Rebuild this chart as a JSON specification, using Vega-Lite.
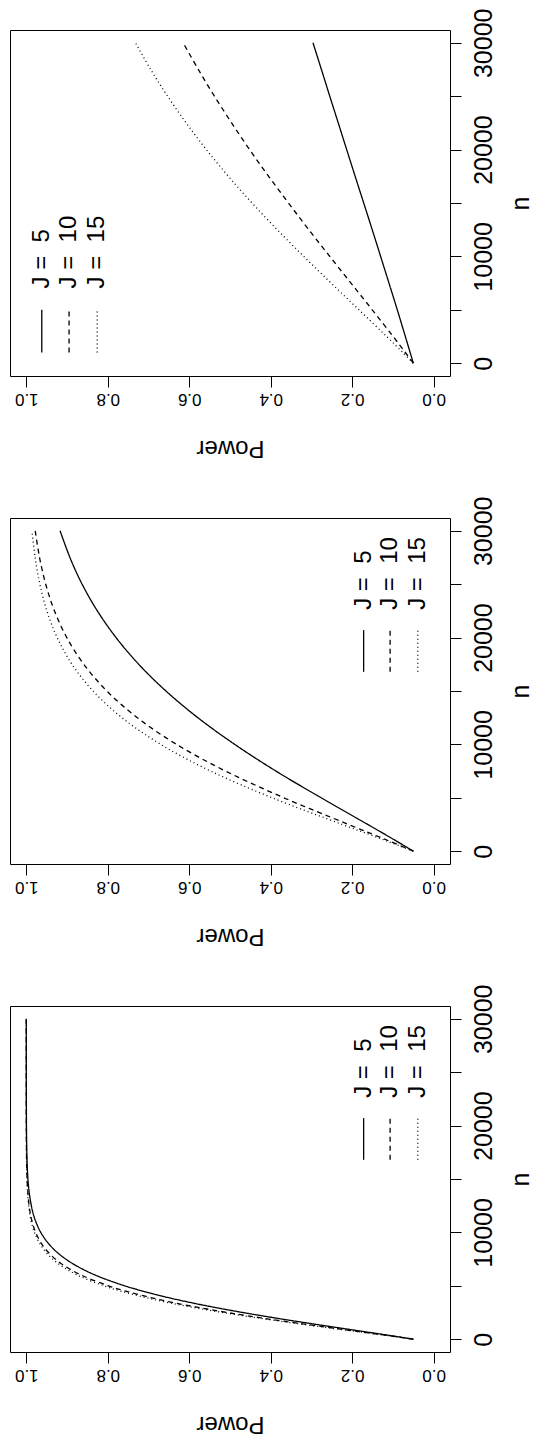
{
  "$schema": "https://vega.github.io/schema/vega-lite/v6.json",
  "padding": {"left": 9, "top": 7, "right": 0, "bottom": 10},
  "spacing": 142,
  "bounds": "flush",
  "config": {
    "font": "Liberation Sans",
    "view": {"stroke": "black", "strokeWidth": 1},
    "axis": {"domain": false, "grid": false, "tickColor": "black", "tickWidth": 1, "labelColor": "black", "titleColor": "black", "labelFont": "Liberation Sans", "titleFont": "Liberation Sans", "titleFontWeight": "normal", "labelFlush": false, "labelOverlap": false},
    "text": {"font": "Liberation Sans", "color": "black"}
  },
  "datasets": {
    "legend": [
      {"J": 5, "label": "J = \u00a05"},
      {"J": 10, "label": "J = \u00a010"},
      {"J": 15, "label": "J = \u00a015"}
    ],
    "curves": [
      {"p":"t","J":5,"n":0,"power":0.05},{"p":"t","J":5,"n":1000,"power":0.0578},{"p":"t","J":5,"n":2500,"power":0.0696},{"p":"t","J":5,"n":5000,"power":0.0894},{"p":"t","J":5,"n":7500,"power":0.1098},{"p":"t","J":5,"n":10000,"power":0.1303},{"p":"t","J":5,"n":12500,"power":0.1509},{"p":"t","J":5,"n":15000,"power":0.1718},{"p":"t","J":5,"n":17500,"power":0.1928},{"p":"t","J":5,"n":20000,"power":0.2136},{"p":"t","J":5,"n":22500,"power":0.2343},{"p":"t","J":5,"n":25000,"power":0.2551},{"p":"t","J":5,"n":27500,"power":0.2756},{"p":"t","J":5,"n":30000,"power":0.2963},
      {"p":"t","J":10,"n":0,"power":0.05},{"p":"t","J":10,"n":1000,"power":0.0696},{"p":"t","J":10,"n":2500,"power":0.0996},{"p":"t","J":10,"n":5000,"power":0.1509},{"p":"t","J":10,"n":7500,"power":0.2031},{"p":"t","J":10,"n":10000,"power":0.2551},{"p":"t","J":10,"n":12500,"power":0.3066},{"p":"t","J":10,"n":15000,"power":0.3565},{"p":"t","J":10,"n":17500,"power":0.4053},{"p":"t","J":10,"n":20000,"power":0.4519},{"p":"t","J":10,"n":22500,"power":0.4960},{"p":"t","J":10,"n":25000,"power":0.5382},{"p":"t","J":10,"n":27500,"power":0.5777},{"p":"t","J":10,"n":30000,"power":0.6149},
      {"p":"t","J":15,"n":0,"power":0.05},{"p":"t","J":15,"n":1000,"power":0.0757},{"p":"t","J":15,"n":2500,"power":0.1156},{"p":"t","J":15,"n":5000,"power":0.1835},{"p":"t","J":15,"n":7500,"power":0.2519},{"p":"t","J":15,"n":10000,"power":0.3190},{"p":"t","J":15,"n":12500,"power":0.3841},{"p":"t","J":15,"n":15000,"power":0.4459},{"p":"t","J":15,"n":17500,"power":0.5040},{"p":"t","J":15,"n":20000,"power":0.5580},{"p":"t","J":15,"n":22500,"power":0.6076},{"p":"t","J":15,"n":25000,"power":0.6532},{"p":"t","J":15,"n":27500,"power":0.6946},{"p":"t","J":15,"n":30000,"power":0.7320},
      {"p":"m","J":5,"n":0,"power":0.05},{"p":"m","J":5,"n":1000,"power":0.0938},{"p":"m","J":5,"n":2500,"power":0.1618},{"p":"m","J":5,"n":5000,"power":0.2763},{"p":"m","J":5,"n":7500,"power":0.3872},{"p":"m","J":5,"n":10000,"power":0.4884},{"p":"m","J":5,"n":12500,"power":0.5789},{"p":"m","J":5,"n":15000,"power":0.6573},{"p":"m","J":5,"n":17500,"power":0.7241},{"p":"m","J":5,"n":20000,"power":0.7796},{"p":"m","J":5,"n":22500,"power":0.8256},{"p":"m","J":5,"n":25000,"power":0.8630},{"p":"m","J":5,"n":27500,"power":0.8929},{"p":"m","J":5,"n":30000,"power":0.9170},
      {"p":"m","J":10,"n":0,"power":0.05},{"p":"m","J":10,"n":1000,"power":0.1122},{"p":"m","J":10,"n":2500,"power":0.2090},{"p":"m","J":10,"n":5000,"power":0.3678},{"p":"m","J":10,"n":7500,"power":0.5108},{"p":"m","J":10,"n":10000,"power":0.6312},{"p":"m","J":10,"n":12500,"power":0.7274},{"p":"m","J":10,"n":15000,"power":0.8023},{"p":"m","J":10,"n":17500,"power":0.8588},{"p":"m","J":10,"n":20000,"power":0.9006},{"p":"m","J":10,"n":22500,"power":0.9308},{"p":"m","J":10,"n":25000,"power":0.9523},{"p":"m","J":10,"n":27500,"power":0.9675},{"p":"m","J":10,"n":30000,"power":0.9780},
      {"p":"m","J":15,"n":0,"power":0.05},{"p":"m","J":15,"n":1000,"power":0.1182},{"p":"m","J":15,"n":2500,"power":0.2243},{"p":"m","J":15,"n":5000,"power":0.3964},{"p":"m","J":15,"n":7500,"power":0.5474},{"p":"m","J":15,"n":10000,"power":0.6700},{"p":"m","J":15,"n":12500,"power":0.7651},{"p":"m","J":15,"n":15000,"power":0.8362},{"p":"m","J":15,"n":17500,"power":0.8878},{"p":"m","J":15,"n":20000,"power":0.9242},{"p":"m","J":15,"n":22500,"power":0.9495},{"p":"m","J":15,"n":25000,"power":0.9667},{"p":"m","J":15,"n":27500,"power":0.9783},{"p":"m","J":15,"n":30000,"power":0.9860},
      {"p":"b","J":5,"n":0,"power":0.05},{"p":"b","J":5,"n":250,"power":0.0914},{"p":"b","J":5,"n":500,"power":0.1343},{"p":"b","J":5,"n":750,"power":0.1778},{"p":"b","J":5,"n":1000,"power":0.2217},{"p":"b","J":5,"n":1500,"power":0.3080},{"p":"b","J":5,"n":2000,"power":0.3910},{"p":"b","J":5,"n":2500,"power":0.4689},{"p":"b","J":5,"n":3000,"power":0.5406},{"p":"b","J":5,"n":3500,"power":0.6053},{"p":"b","J":5,"n":4000,"power":0.6631},{"p":"b","J":5,"n":4500,"power":0.7140},{"p":"b","J":5,"n":5000,"power":0.7587},{"p":"b","J":5,"n":6000,"power":0.8305},{"p":"b","J":5,"n":7000,"power":0.8828},{"p":"b","J":5,"n":8000,"power":0.9203},{"p":"b","J":5,"n":9000,"power":0.9464},{"p":"b","J":5,"n":10000,"power":0.9645},{"p":"b","J":5,"n":11000,"power":0.9766},{"p":"b","J":5,"n":12000,"power":0.9848},{"p":"b","J":5,"n":14000,"power":0.9937},{"p":"b","J":5,"n":16000,"power":0.9975},{"p":"b","J":5,"n":18000,"power":0.9990},{"p":"b","J":5,"n":20000,"power":0.9996},{"p":"b","J":5,"n":25000,"power":1.0},{"p":"b","J":5,"n":30000,"power":1.0},
      {"p":"b","J":10,"n":0,"power":0.05},{"p":"b","J":10,"n":250,"power":0.0958},{"p":"b","J":10,"n":500,"power":0.1432},{"p":"b","J":10,"n":750,"power":0.1914},{"p":"b","J":10,"n":1000,"power":0.2398},{"p":"b","J":10,"n":1500,"power":0.3344},{"p":"b","J":10,"n":2000,"power":0.4243},{"p":"b","J":10,"n":2500,"power":0.5072},{"p":"b","J":10,"n":3000,"power":0.5816},{"p":"b","J":10,"n":3500,"power":0.6480},{"p":"b","J":10,"n":4000,"power":0.7057},{"p":"b","J":10,"n":4500,"power":0.7558},{"p":"b","J":10,"n":5000,"power":0.7984},{"p":"b","J":10,"n":6000,"power":0.8650},{"p":"b","J":10,"n":7000,"power":0.9113},{"p":"b","J":10,"n":8000,"power":0.9426},{"p":"b","J":10,"n":9000,"power":0.9634},{"p":"b","J":10,"n":10000,"power":0.9770},{"p":"b","J":10,"n":11000,"power":0.9857},{"p":"b","J":10,"n":12000,"power":0.9912},{"p":"b","J":10,"n":14000,"power":0.9967},{"p":"b","J":10,"n":16000,"power":0.9988},{"p":"b","J":10,"n":18000,"power":0.9996},{"p":"b","J":10,"n":20000,"power":0.9999},{"p":"b","J":10,"n":25000,"power":1.0},{"p":"b","J":10,"n":30000,"power":1.0},
      {"p":"b","J":15,"n":0,"power":0.05},{"p":"b","J":15,"n":250,"power":0.0971},{"p":"b","J":15,"n":500,"power":0.1460},{"p":"b","J":15,"n":750,"power":0.1957},{"p":"b","J":15,"n":1000,"power":0.2454},{"p":"b","J":15,"n":1500,"power":0.3425},{"p":"b","J":15,"n":2000,"power":0.4341},{"p":"b","J":15,"n":2500,"power":0.5183},{"p":"b","J":15,"n":3000,"power":0.5941},{"p":"b","J":15,"n":3500,"power":0.6606},{"p":"b","J":15,"n":4000,"power":0.7180},{"p":"b","J":15,"n":4500,"power":0.7679},{"p":"b","J":15,"n":5000,"power":0.8098},{"p":"b","J":15,"n":6000,"power":0.8745},{"p":"b","J":15,"n":7000,"power":0.9188},{"p":"b","J":15,"n":8000,"power":0.9483},{"p":"b","J":15,"n":9000,"power":0.9676},{"p":"b","J":15,"n":10000,"power":0.9800},{"p":"b","J":15,"n":11000,"power":0.9877},{"p":"b","J":15,"n":12000,"power":0.9926},{"p":"b","J":15,"n":14000,"power":0.9973},{"p":"b","J":15,"n":16000,"power":0.9991},{"p":"b","J":15,"n":18000,"power":0.9997},{"p":"b","J":15,"n":20000,"power":0.9999},{"p":"b","J":15,"n":25000,"power":1.0},{"p":"b","J":15,"n":30000,"power":1.0}
    ]
  },
  "vconcat": [
    {
      "width": 440, "height": 346,
      "layer": [
        {"data": {"name": "curves"}, "transform": [{"filter": "datum.p == 't'"}],
         "mark": {"type": "line", "color": "black", "strokeWidth": 1.3, "interpolate": "catmull-rom"},
         "encoding": {
           "x": {"field": "power", "type": "quantitative", "scale": {"domain": [-0.04, 1.04], "reverse": true, "nice": false, "zero": false},
                 "axis": {"orient": "bottom", "title": "Power", "values": [0, 0.2, 0.4, 0.6, 0.8, 1], "format": ".1f", "labelAngle": 180, "labelAlign": "center", "labelBaseline": "bottom", "labelFontSize": 17, "labelPadding": 2, "tickSize": 11, "titleAngle": 180, "titleBaseline": "bottom", "titleFontSize": 24, "titlePadding": 28}},
           "y": {"field": "n", "type": "quantitative", "scale": {"domain": [-1200, 31200], "nice": false, "zero": false},
                 "axis": {"orient": "right", "title": "n", "values": [0, 5000, 10000, 15000, 20000, 25000, 30000], "labelExpr": "datum.value % 10000 === 0 ? format(datum.value, 'd') : ''", "labelAngle": 270, "labelAlign": "center", "labelBaseline": "top", "labelFontSize": 25, "labelPadding": 10, "tickSize": 11, "titleAngle": 270, "titleBaseline": "top", "titleFontSize": 25, "titlePadding": 12}},
           "strokeDash": {"field": "J", "type": "nominal", "scale": {"domain": [5, 10, 15], "range": [[1, 0], [5, 4], [1, 3]]}, "legend": null},
           "order": {"field": "n", "type": "quantitative"}
         }},
        {"data": {"name": "legend"}, "transform": [{"filter": "datum.J == 5"}], "mark": {"type": "rule", "color": "black", "strokeWidth": 1.3}, "encoding": {"x": {"datum": 0.962, "type": "quantitative"}, "y": {"datum": 1000, "type": "quantitative"}, "y2": {"datum": 5000}}},
        {"data": {"name": "legend"}, "transform": [{"filter": "datum.J == 10"}], "mark": {"type": "rule", "color": "black", "strokeWidth": 1.3, "strokeDash": [5, 4]}, "encoding": {"x": {"datum": 0.895, "type": "quantitative"}, "y": {"datum": 1000, "type": "quantitative"}, "y2": {"datum": 5000}}},
        {"data": {"name": "legend"}, "transform": [{"filter": "datum.J == 15"}], "mark": {"type": "rule", "color": "black", "strokeWidth": 1.3, "strokeDash": [1, 3]}, "encoding": {"x": {"datum": 0.826, "type": "quantitative"}, "y": {"datum": 1000, "type": "quantitative"}, "y2": {"datum": 5000}}},
        {"data": {"name": "legend"}, "transform": [{"filter": "datum.J == 5"}], "mark": {"type": "text", "angle": 270, "align": "left", "baseline": "middle", "fontSize": 24}, "encoding": {"x": {"datum": 0.962, "type": "quantitative"}, "y": {"datum": 7000, "type": "quantitative"}, "text": {"field": "label"}}},
        {"data": {"name": "legend"}, "transform": [{"filter": "datum.J == 10"}], "mark": {"type": "text", "angle": 270, "align": "left", "baseline": "middle", "fontSize": 24}, "encoding": {"x": {"datum": 0.895, "type": "quantitative"}, "y": {"datum": 7000, "type": "quantitative"}, "text": {"field": "label"}}},
        {"data": {"name": "legend"}, "transform": [{"filter": "datum.J == 15"}], "mark": {"type": "text", "angle": 270, "align": "left", "baseline": "middle", "fontSize": 24}, "encoding": {"x": {"datum": 0.826, "type": "quantitative"}, "y": {"datum": 7000, "type": "quantitative"}, "text": {"field": "label"}}}
      ]
    },
    {
      "width": 440, "height": 346,
      "layer": [
        {"data": {"name": "curves"}, "transform": [{"filter": "datum.p == 'm'"}],
         "mark": {"type": "line", "color": "black", "strokeWidth": 1.3, "interpolate": "catmull-rom"},
         "encoding": {
           "x": {"field": "power", "type": "quantitative", "scale": {"domain": [-0.04, 1.04], "reverse": true, "nice": false, "zero": false},
                 "axis": {"orient": "bottom", "title": "Power", "values": [0, 0.2, 0.4, 0.6, 0.8, 1], "format": ".1f", "labelAngle": 180, "labelAlign": "center", "labelBaseline": "bottom", "labelFontSize": 17, "labelPadding": 2, "tickSize": 11, "titleAngle": 180, "titleBaseline": "bottom", "titleFontSize": 24, "titlePadding": 28}},
           "y": {"field": "n", "type": "quantitative", "scale": {"domain": [-1200, 31200], "nice": false, "zero": false},
                 "axis": {"orient": "right", "title": "n", "values": [0, 5000, 10000, 15000, 20000, 25000, 30000], "labelExpr": "datum.value % 10000 === 0 ? format(datum.value, 'd') : ''", "labelAngle": 270, "labelAlign": "center", "labelBaseline": "top", "labelFontSize": 25, "labelPadding": 10, "tickSize": 11, "titleAngle": 270, "titleBaseline": "top", "titleFontSize": 25, "titlePadding": 12}},
           "strokeDash": {"field": "J", "type": "nominal", "scale": {"domain": [5, 10, 15], "range": [[1, 0], [5, 4], [1, 3]]}, "legend": null},
           "order": {"field": "n", "type": "quantitative"}
         }},
        {"data": {"name": "legend"}, "transform": [{"filter": "datum.J == 5"}], "mark": {"type": "rule", "color": "black", "strokeWidth": 1.3}, "encoding": {"x": {"datum": 0.172, "type": "quantitative"}, "y": {"datum": 16800, "type": "quantitative"}, "y2": {"datum": 20700}}},
        {"data": {"name": "legend"}, "transform": [{"filter": "datum.J == 10"}], "mark": {"type": "rule", "color": "black", "strokeWidth": 1.3, "strokeDash": [5, 4]}, "encoding": {"x": {"datum": 0.107, "type": "quantitative"}, "y": {"datum": 16800, "type": "quantitative"}, "y2": {"datum": 20700}}},
        {"data": {"name": "legend"}, "transform": [{"filter": "datum.J == 15"}], "mark": {"type": "rule", "color": "black", "strokeWidth": 1.3, "strokeDash": [1, 3]}, "encoding": {"x": {"datum": 0.039, "type": "quantitative"}, "y": {"datum": 16800, "type": "quantitative"}, "y2": {"datum": 20700}}},
        {"data": {"name": "legend"}, "transform": [{"filter": "datum.J == 5"}], "mark": {"type": "text", "angle": 270, "align": "left", "baseline": "middle", "fontSize": 24}, "encoding": {"x": {"datum": 0.172, "type": "quantitative"}, "y": {"datum": 22600, "type": "quantitative"}, "text": {"field": "label"}}},
        {"data": {"name": "legend"}, "transform": [{"filter": "datum.J == 10"}], "mark": {"type": "text", "angle": 270, "align": "left", "baseline": "middle", "fontSize": 24}, "encoding": {"x": {"datum": 0.107, "type": "quantitative"}, "y": {"datum": 22600, "type": "quantitative"}, "text": {"field": "label"}}},
        {"data": {"name": "legend"}, "transform": [{"filter": "datum.J == 15"}], "mark": {"type": "text", "angle": 270, "align": "left", "baseline": "middle", "fontSize": 24}, "encoding": {"x": {"datum": 0.039, "type": "quantitative"}, "y": {"datum": 22600, "type": "quantitative"}, "text": {"field": "label"}}}
      ]
    },
    {
      "width": 440, "height": 346,
      "layer": [
        {"data": {"name": "curves"}, "transform": [{"filter": "datum.p == 'b'"}],
         "mark": {"type": "line", "color": "black", "strokeWidth": 1.3, "interpolate": "catmull-rom"},
         "encoding": {
           "x": {"field": "power", "type": "quantitative", "scale": {"domain": [-0.04, 1.04], "reverse": true, "nice": false, "zero": false},
                 "axis": {"orient": "bottom", "title": "Power", "values": [0, 0.2, 0.4, 0.6, 0.8, 1], "format": ".1f", "labelAngle": 180, "labelAlign": "center", "labelBaseline": "bottom", "labelFontSize": 17, "labelPadding": 2, "tickSize": 11, "titleAngle": 180, "titleBaseline": "bottom", "titleFontSize": 24, "titlePadding": 28}},
           "y": {"field": "n", "type": "quantitative", "scale": {"domain": [-1200, 31200], "nice": false, "zero": false},
                 "axis": {"orient": "right", "title": "n", "values": [0, 5000, 10000, 15000, 20000, 25000, 30000], "labelExpr": "datum.value % 10000 === 0 ? format(datum.value, 'd') : ''", "labelAngle": 270, "labelAlign": "center", "labelBaseline": "top", "labelFontSize": 25, "labelPadding": 10, "tickSize": 11, "titleAngle": 270, "titleBaseline": "top", "titleFontSize": 25, "titlePadding": 12}},
           "strokeDash": {"field": "J", "type": "nominal", "scale": {"domain": [5, 10, 15], "range": [[1, 0], [5, 4], [1, 3]]}, "legend": null},
           "order": {"field": "n", "type": "quantitative"}
         }},
        {"data": {"name": "legend"}, "transform": [{"filter": "datum.J == 5"}], "mark": {"type": "rule", "color": "black", "strokeWidth": 1.3}, "encoding": {"x": {"datum": 0.172, "type": "quantitative"}, "y": {"datum": 16800, "type": "quantitative"}, "y2": {"datum": 20700}}},
        {"data": {"name": "legend"}, "transform": [{"filter": "datum.J == 10"}], "mark": {"type": "rule", "color": "black", "strokeWidth": 1.3, "strokeDash": [5, 4]}, "encoding": {"x": {"datum": 0.107, "type": "quantitative"}, "y": {"datum": 16800, "type": "quantitative"}, "y2": {"datum": 20700}}},
        {"data": {"name": "legend"}, "transform": [{"filter": "datum.J == 15"}], "mark": {"type": "rule", "color": "black", "strokeWidth": 1.3, "strokeDash": [1, 3]}, "encoding": {"x": {"datum": 0.039, "type": "quantitative"}, "y": {"datum": 16800, "type": "quantitative"}, "y2": {"datum": 20700}}},
        {"data": {"name": "legend"}, "transform": [{"filter": "datum.J == 5"}], "mark": {"type": "text", "angle": 270, "align": "left", "baseline": "middle", "fontSize": 24}, "encoding": {"x": {"datum": 0.172, "type": "quantitative"}, "y": {"datum": 22600, "type": "quantitative"}, "text": {"field": "label"}}},
        {"data": {"name": "legend"}, "transform": [{"filter": "datum.J == 10"}], "mark": {"type": "text", "angle": 270, "align": "left", "baseline": "middle", "fontSize": 24}, "encoding": {"x": {"datum": 0.107, "type": "quantitative"}, "y": {"datum": 22600, "type": "quantitative"}, "text": {"field": "label"}}},
        {"data": {"name": "legend"}, "transform": [{"filter": "datum.J == 15"}], "mark": {"type": "text", "angle": 270, "align": "left", "baseline": "middle", "fontSize": 24}, "encoding": {"x": {"datum": 0.039, "type": "quantitative"}, "y": {"datum": 22600, "type": "quantitative"}, "text": {"field": "label"}}}
      ]
    }
  ]
}
